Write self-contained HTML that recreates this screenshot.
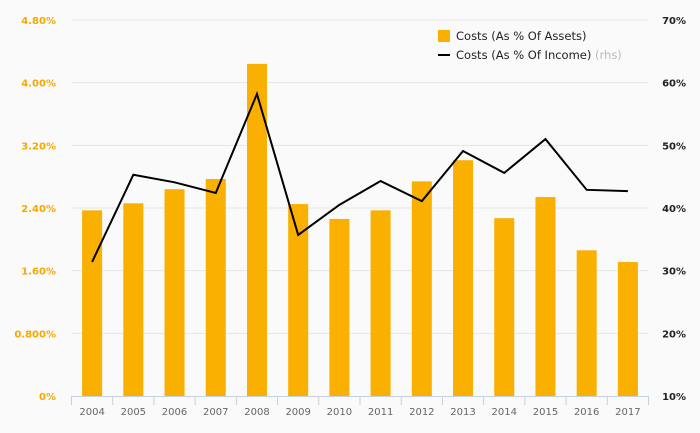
<!DOCTYPE html>
<html><head><meta charset="utf-8"><style>
body{margin:0;background:#fafafa;}
svg{display:block;font-family:"DejaVu Sans","Liberation Sans",sans-serif;}
</style></head><body>
<svg id="c" width="700" height="433"></svg>
<script>
const categories=["2004","2005","2006","2007","2008","2009","2010","2011","2012","2013","2014","2015","2016","2017"];
const assetCosts=[2.37,2.46,2.64,2.77,4.24,2.45,2.26,2.37,2.74,3.01,2.27,2.54,1.86,1.71];
const incomeCosts=[31.4,45.3,44.1,42.4,58.2,35.7,40.5,44.3,41.1,49.1,45.6,51.0,42.9,42.7];
const leftTicks=[0,0.8,1.6,2.4,3.2,4.0,4.8];
const leftLabels=["0%","0.800%","1.60%","2.40%","3.20%","4.00%","4.80%"];
const rightTicks=[10,20,30,40,50,60,70];
const rightLabels=["10%","20%","30%","40%","50%","60%","70%"];

const svg=document.getElementById('c');
const NS='http://www.w3.org/2000/svg';
const X0=71.5,X1=648.5,Y0=396,Y1=20;
const bw=(X1-X0)/categories.length;
const xc=i=>X0+bw*(i+0.5);
const yL=v=>Y0-(v-0)/(4.8-0)*(Y0-Y1);
const yR=v=>Y0-(v-10)/(70-10)*(Y0-Y1);
function mk(t,a,p){const e=document.createElementNS(NS,t);for(const k in a)e.setAttribute(k,a[k]);(p||svg).appendChild(e);return e;}

leftTicks.forEach((v,i)=>{
  if(i>0){const g=mk('line',{x1:X0,x2:X1,y1:yL(v),y2:yL(v),stroke:'#e6e6e6','stroke-width':1});
  
  }
  const t=mk('text',{x:56,y:yL(v)+4,'text-anchor':'end','font-size':10,fill:'#f5a800','font-weight':'bold'});
  t.textContent=leftLabels[i];
  
  
});
rightTicks.forEach((v,i)=>{
  const t=mk('text',{x:686,y:yR(v)+4,'text-anchor':'end','font-size':10,fill:'#222','font-weight':'bold'});
  t.textContent=rightLabels[i];
  
  
});
assetCosts.forEach((v,i)=>{
  const r=mk('rect',{x:xc(i)-10,y:yL(v),width:20,height:Y0-yL(v),fill:'#f9b000'});
  
  
});
const ax=mk('line',{x1:X0,x2:X1,y1:Y0+0.5,y2:Y0+0.5,stroke:'#c5d0e3','stroke-width':1});


for(let i=0;i<=categories.length;i++){
  const tk=mk('line',{x1:X0+bw*i,x2:X0+bw*i,y1:Y0,y2:Y0+9,stroke:'#c5d0e3'});
  
  
}
categories.forEach((c,i)=>{
  const t=mk('text',{x:xc(i),y:415,'text-anchor':'middle','font-size':10,fill:'#666'});
  t.textContent=c;
  
  
});
const pl=mk('polyline',{points:incomeCosts.map((v,i)=>xc(i)+','+yR(v)).join(' '),fill:'none',stroke:'#000','stroke-width':2});



const lg=mk('g',{});


const s1=mk('rect',{x:438,y:30,width:12,height:12,fill:'#f9b000'},lg);


const t1=mk('text',{x:456,y:40,'font-size':11.5,fill:'#222'},lg);
t1.textContent='Costs (As % Of Assets)';


const s2=mk('line',{x1:438,x2:450,y1:55,y2:55,stroke:'#000','stroke-width':2},lg);


const t2=mk('text',{x:456,y:59,'font-size':11.5,fill:'#222'},lg);
t2.innerHTML='Costs (As % Of Income) <tspan fill="#bbb">(rhs)</tspan>';


</script>
</body></html>
